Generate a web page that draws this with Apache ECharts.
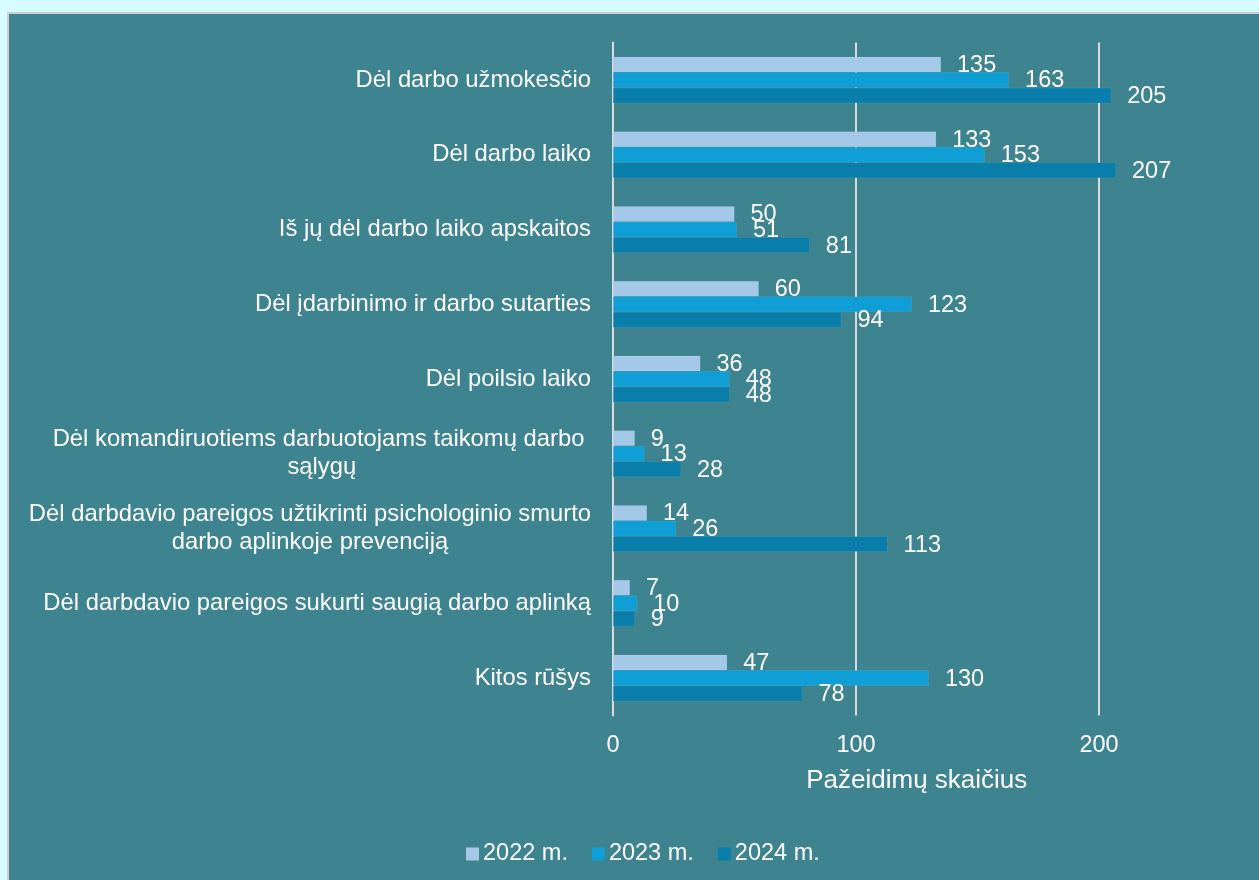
<!DOCTYPE html>
<html>
<head>
<meta charset="utf-8">
<script src="https://cdn.jsdelivr.net/npm/echarts@6/dist/echarts.min.js"></script>
<style>
  html, body { margin: 0; padding: 0; background: #d8fbff; }
  #frame {
    position: absolute; left: 7px; top: 12px; right: 0; bottom: 0;
    border-top: 2px solid #cfcfcf; border-left: 2px solid #cfcfcf;
    background: #3d8390; overflow: hidden;
  }
  #main { width: 1250px; height: 866px; }
</style>
</head>
<body>
<div id="frame"><div id="main"></div></div>
<script>
  var categories = [
    'Dėl darbo užmokesčio',
    'Dėl darbo laiko',
    'Iš jų dėl darbo laiko apskaitos',
    'Dėl įdarbinimo ir darbo sutarties',
    'Dėl poilsio laiko',
    'Dėl komandiruotiems darbuotojams taikomų darbo \nsąlygų',
    'Dėl darbdavio pareigos užtikrinti psichologinio smurto\ndarbo aplinkoje prevenciją',
    'Dėl darbdavio pareigos sukurti saugią darbo aplinką',
    'Kitos rūšys'
  ]
  var years = ['2022 m.', '2023 m.', '2024 m.']
  var values2022 = [135, 133, 50, 60, 36, 9, 14, 7, 47]
  var values2023 = [163, 153, 51, 123, 48, 13, 26, 10, 130]
  var values2024 = [205, 207, 81, 94, 48, 28, 113, 9, 78]
  var colors = ['#a4c8e8', '#0f9ed6', '#0a7eab']

  var font = '"Liberation Sans", Arial, sans-serif'

  function makeSeries (name, data, color) {
    return {
      name: name,
      type: 'bar',
      data: data,
      barGap: '0%',
      barCategoryGap: '37.5%',
      itemStyle: { color: color, borderColor: 'rgba(255,255,255,0.12)', borderWidth: 0.6 },
      label: {
        show: true,
        position: 'right',
        distance: 16,
        color: '#ffffff',
        fontSize: 23.5,
        fontFamily: font,
        offset: [0, 1]
      }
    }
  }

  var myChart = echarts.init(document.getElementById('main'))
  myChart.setOption({
    animation: false,
    textStyle: { fontFamily: font },
    grid: { left: 604, right: 38.5, top: 28.6, bottom: 164.6, containLabel: false },
    legend: {
      data: years,
      left: 452,
      top: 823,
      icon: 'rect',
      itemWidth: 13,
      itemHeight: 13,
      itemGap: 24,
      itemStyle: { borderWidth: 0 },
      textStyle: { color: '#ffffff', fontSize: 23.5, fontFamily: font, padding: [0, 0, 0, -1] }
    },
    xAxis: {
      type: 'value',
      min: 0,
      max: 250,
      interval: 100,
      name: 'Pažeidimų skaičius',
      nameLocation: 'middle',
      nameGap: 52,
      nameTextStyle: { color: '#ffffff', fontSize: 26, fontFamily: font },
      axisLine: { show: false },
      axisTick: { show: false },
      axisLabel: { color: '#ffffff', fontSize: 23.5, margin: 18, fontFamily: font, showMaxLabel: false },
      splitLine: { show: true, showMinLine: false, showMaxLine: false, lineStyle: { color: '#d9d9d9', width: 2 } }
    },
    yAxis: {
      type: 'category',
      inverse: true,
      data: categories,
      axisLine: { show: true, lineStyle: { color: '#d9d9d9', width: 2 } },
      axisTick: { show: false },
      axisLabel: {
        margin: 22,
        color: '#ffffff',
        fontSize: 23.8,
        fontFamily: font,
        lineHeight: 28,
        formatter: function (v) {
          return v.split('\n').map(function (s) { return '{c|' + s + '}' }).join('\n')
        },
        rich: {
          c: { align: 'center', color: '#ffffff', fontSize: 23.8, fontFamily: font, lineHeight: 28 }
        }
      }
    },
    series: [
      makeSeries(years[0], values2022, colors[0]),
      makeSeries(years[1], values2023, colors[1]),
      makeSeries(years[2], values2024, colors[2])
    ]
  })
</script>
</body>
</html>
